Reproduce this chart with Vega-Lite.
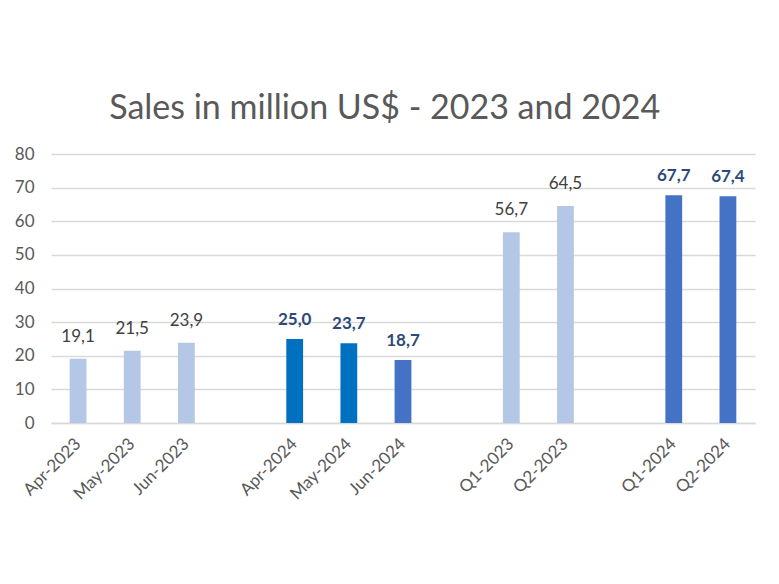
{
  "$schema": "https://vega.github.io/schema/vega-lite/v6.json",
  "width": 704,
  "height": 269,
  "autosize": {"type": "none"},
  "padding": {"left": 51, "top": 154, "right": 24, "bottom": 161},
  "background": "white",
  "title": {
    "text": "Sales in million US$ - 2023 and 2024",
    "font": "Lato",
    "fontSize": 34,
    "fontWeight": "normal",
    "color": "#595959",
    "anchor": "middle",
    "frame": "bounds",
    "offset": 19
  },
  "config": {
    "locale": {"number": {"decimal": ",", "thousands": ".", "grouping": [3], "currency": ["", " $"]}},
    "view": {"stroke": null},
    "font": "Lato"
  },
  "data": {
    "values": [
      {"period": "Apr-2023", "sales": 19.1, "year": "2023", "series": "2023"},
      {"period": "May-2023", "sales": 21.5, "year": "2023", "series": "2023"},
      {"period": "Jun-2023", "sales": 23.9, "year": "2023", "series": "2023"},
      {"period": "Apr-2024", "sales": 25.0, "year": "2024", "series": "2024 Apr-May"},
      {"period": "May-2024", "sales": 23.7, "year": "2024", "series": "2024 Apr-May"},
      {"period": "Jun-2024", "sales": 18.7, "year": "2024", "series": "2024 Jun-Q"},
      {"period": "Q1-2023", "sales": 56.7, "year": "2023", "series": "2023"},
      {"period": "Q2-2023", "sales": 64.5, "year": "2023", "series": "2023"},
      {"period": "Q1-2024", "sales": 67.7, "year": "2024", "series": "2024 Jun-Q"},
      {"period": "Q2-2024", "sales": 67.4, "year": "2024", "series": "2024 Jun-Q"}
    ]
  },
  "encoding": {
    "x": {
      "field": "period",
      "type": "nominal",
      "sort": null,
      "scale": {
        "domain": ["Apr-2023", "May-2023", "Jun-2023", " ", "Apr-2024", "May-2024", "Jun-2024", "  ", "Q1-2023", "Q2-2023", "   ", "Q1-2024", "Q2-2024"],
        "paddingInner": 0.69,
        "paddingOuter": 0.345
      },
      "axis": {
        "title": null,
        "labelAngle": -45,
        "labelAlign": "right",
        "labelBaseline": "middle",
        "labelFont": "Lato",
        "labelFontSize": 17,
        "labelColor": "#595959",
        "labelPadding": 18,
        "ticks": false,
        "domainColor": "#d9d9d9",
        "domainWidth": 1.3,
        "grid": false
      }
    },
    "y": {
      "field": "sales",
      "type": "quantitative",
      "scale": {"domain": [0, 80], "nice": false},
      "axis": {
        "title": null,
        "values": [0, 10, 20, 30, 40, 50, 60, 70, 80],
        "labelFont": "Lato",
        "labelFontSize": 17,
        "labelColor": "#595959",
        "labelPadding": 17,
        "ticks": false,
        "domain": false,
        "gridColor": "#d9d9d9",
        "gridWidth": 1.3
      }
    }
  },
  "layer": [
    {
      "mark": {"type": "bar"},
      "encoding": {
        "color": {
          "field": "series",
          "type": "nominal",
          "scale": {"domain": ["2023", "2024 Apr-May", "2024 Jun-Q"], "range": ["#B4C7E7", "#0070C0", "#4472C4"]},
          "legend": null
        }
      }
    },
    {
      "transform": [{"filter": "datum.year == '2023'"}],
      "mark": {"type": "text", "baseline": "bottom", "dy": -13, "fontSize": 17, "font": "Lato", "color": "#404040"},
      "encoding": {"text": {"field": "sales", "type": "quantitative", "format": ".1f"}}
    },
    {
      "transform": [{"filter": "datum.year == '2024'"}],
      "mark": {"type": "text", "baseline": "bottom", "dy": -10, "fontSize": 17, "font": "Lato", "fontWeight": "bold", "color": "#2B4A7A"},
      "encoding": {"text": {"field": "sales", "type": "quantitative", "format": ".1f"}}
    }
  ]
}
